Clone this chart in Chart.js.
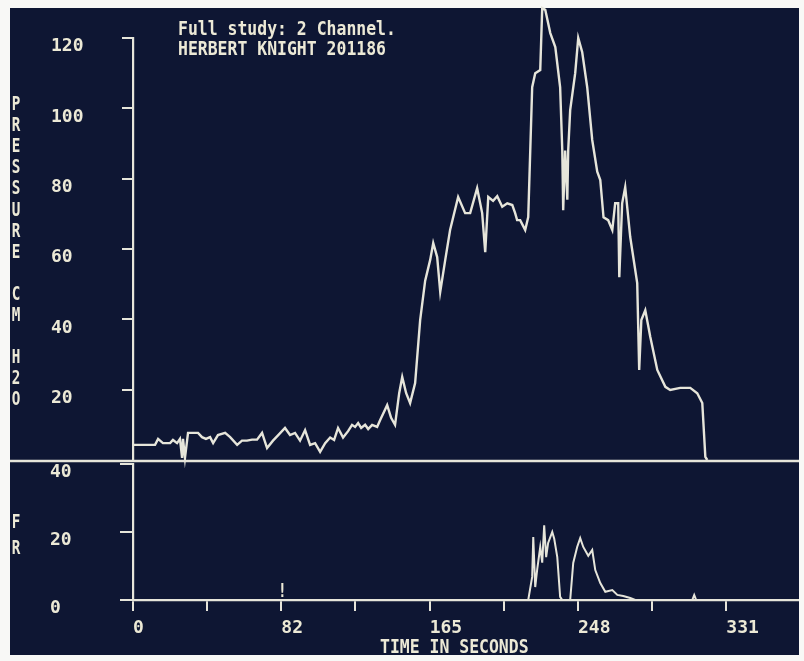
<!DOCTYPE html>
<html><head><meta charset="utf-8">
<script src="https://cdn.jsdelivr.net/npm/chart.js@4/dist/chart.umd.min.js"></script>
<style>
html,body{margin:0;padding:0;background:#f8f8f6;width:804px;height:661px;overflow:hidden;}
#screen{position:absolute;left:10px;top:8px;width:789px;height:647px;background:#0e1633;}
canvas{position:absolute;left:0;top:0;}
</style></head><body>
<div id="screen"></div>
<canvas id="topChart" width="804" height="661"></canvas>
<canvas id="botChart" width="804" height="661"></canvas>
<script>
// ---- text ----
const titleLines = ['Full study: 2 Channel.', 'HERBERT KNIGHT 201186'];
const pressureAxisLabel = 'PRESSURE CM H2O';
const flowAxisLabel = 'FR';
const xAxisTitle = 'TIME IN SECONDS';
const markerText = '!';
const markerTime = 82.75;

// ---- ticks ----
const xTickValues = [0, 41.375, 82.75, 124.125, 165.5, 206.875, 248.25, 289.625, 331];
const xTickLabels = ['0', '', '82', '', '165', '', '248', '', '331'];
const pressureTicks = [20, 40, 60, 80, 100, 120];
const flowTicks = [0, 20, 40];

// ---- pressure channel (cm H2O) ----
const pressureTime = [0,12.3,14.0,16.7,20.7,22.3,24.6,26.2,27.4,27.9,29.0,30.7,36.3,38.5,40.7,43.0,44.7,47.4,51.4,54.2,58.1,60.8,63.6,66.4,69.2,72.0,74.8,78.1,80.9,84.8,87.6,90.4,93.2,96.0,98.8,101.6,104.4,107.2,110.0,112.2,114.4,117.2,120.0,122.2,123.9,125.6,127.3,129.5,131.2,133.4,136.2,137.9,141.8,144.0,146.2,148.5,150.2,152.4,154.6,157.4,160.2,163.0,165.8,167.5,169.7,171.4,174.2,176.9,181.4,185.3,188.1,192.0,194.8,196.5,198.2,200.9,203.2,206.0,208.8,211.6,213.2,214.3,216.0,217.7,218.8,220.5,222.7,224.4,227.2,228.3,230.0,232.8,235.6,238.3,239.5,240.0,241.1,242.3,242.8,243.9,246.7,248.4,250.6,253.4,256.2,259.0,260.7,262.5,265.1,267.4,269.0,270.7,271.3,272.9,274.6,277.4,281.3,282.4,283.6,285.8,288.6,292.5,297.0,299.7,305.3,310.9,314.8,317.6,319.3,320.4];
const pressureValue = [4.3,4.3,6.0,4.8,4.8,5.7,4.8,6.0,0.6,6.0,0.6,7.7,7.7,6.5,6.0,6.5,4.8,7.1,7.7,6.5,4.3,5.5,5.5,5.8,5.8,7.7,3.4,5.5,7.0,9.1,7.1,7.7,5.5,8.5,4.3,4.8,2.3,4.8,6.4,5.7,9.1,6.4,8.2,10.0,9.4,10.5,9.1,10.0,8.8,10.0,9.4,11.4,15.6,12.0,10.0,19.0,23.6,19.0,16.2,21.9,39.8,51.0,56.9,61.7,57.7,47.8,56.9,65.4,74.8,70.2,70.2,77.3,70.2,59.1,74.8,73.7,75.0,72.0,73.0,72.5,70.2,68.2,68.2,66.5,65.4,69.1,106.0,110.0,110.9,128.5,128.0,121.4,117.4,106.0,88.0,71.0,88.0,74.0,88.0,99.5,110.0,120.0,116.0,106.0,91.0,82.0,79.6,69.0,68.2,65.4,73.0,73.0,52.0,73.0,77.6,63.4,50.3,25.6,39.8,42.6,35.0,25.6,20.8,19.9,20.5,20.5,19.0,16.2,0.9,0];

// ---- flow-rate channel ----
const flowTime = [0,220.5,222.7,223.3,224.4,225.5,227.2,228.3,229.4,230.5,231.6,233.9,235.0,236.7,238.3,239.5,243.9,245.6,247.8,249.5,251.2,254.0,256.2,257.9,260.7,263.5,267.4,270.2,273.5,277.4,280.2,312.0,313.1,314.2,331];
const flowValue = [0,0,6.8,18.5,3.8,9.0,15.6,11.0,22.0,12.6,16.8,20.0,18.0,12.6,0.9,0,0,10.9,15.6,18.2,15.6,13.0,14.7,8.8,5.0,2.4,2.9,1.5,1.2,0.6,0,0,1.5,0,0];

const INK = '#e6e5da';
const TXT = '#ece9d6';
const FONT = '"DejaVu Sans Mono", "Liberation Mono", monospace';

function pts(t, v) { return t.map((x, i) => ({ x: x, y: v[i] })); }

function crtText(ctx, str, x, y, size, sx, align) {
  ctx.save();
  ctx.translate(x, y);
  ctx.scale(sx, 1);
  ctx.font = 'bold ' + size + 'px ' + FONT;
  ctx.fillStyle = TXT;
  ctx.textAlign = align || 'left';
  ctx.textBaseline = 'alphabetic';
  ctx.fillText(str, 0, 0);
  ctx.restore();
}

const tickFont = { family: FONT, size: 18, weight: 'bold', lineHeight: 0.95 };

const topDecor = {
  id: 'topDecor',
  afterDraw(chart) {
    const ctx = chart.ctx;
    const y0 = chart.scales.y.getPixelForValue(0) + 1;
    ctx.save();
    ctx.strokeStyle = INK; ctx.lineWidth = 2.5;
    ctx.beginPath(); ctx.moveTo(10, y0); ctx.lineTo(799, y0); ctx.stroke();
    ctx.restore();
    crtText(ctx, titleLines[0], 178, 35, 19, 0.866, 'left');
    crtText(ctx, titleLines[1], 178, 55, 19, 0.866, 'left');
    const chars = pressureAxisLabel.split('');
    chars.forEach((c, i) => { if (c !== ' ') crtText(ctx, c, 16, 110 + i * 21.1, 19, 0.75, 'center'); });
  }
};

const botDecor = {
  id: 'botDecor',
  afterDraw(chart) {
    const ctx = chart.ctx;
    crtText(ctx, flowAxisLabel[0], 16, 528, 19, 0.75, 'center');
    crtText(ctx, flowAxisLabel[1], 16, 554, 19, 0.75, 'center');
    crtText(ctx, xAxisTitle, 380, 653, 19, 0.866, 'left');
    const mx = chart.scales.x.getPixelForValue(markerTime);
    const my = chart.scales.y.getPixelForValue(0);
    crtText(ctx, markerText, mx + 1, my - 3, 19, 0.8, 'center');
  }
};

new Chart(document.getElementById('topChart'), {
  type: 'line',
  data: { datasets: [{ data: pts(pressureTime, pressureValue), borderColor: INK, borderWidth: 2.4, pointRadius: 0, tension: 0, clip: false }] },
  options: {
    responsive: false, animation: false, devicePixelRatio: 1,
    layout: { padding: { left: 51, right: 6, top: 38, bottom: 201 } },
    plugins: { legend: { display: false }, tooltip: { enabled: false } },
    scales: {
      x: { type: 'linear', display: false, min: 0, max: 371 },
      y: {
        type: 'linear', min: 0, max: 120, position: 'left',
        afterFit(s) { s.width = 82; },
        afterBuildTicks(s) { s.ticks = pressureTicks.map(v => ({ value: v })); },
        ticks: { color: TXT, font: tickFont, crossAlign: 'far', padding: 0, callback: (v) => ['', String(v)] },
        grid: { drawOnChartArea: false, color: INK, lineWidth: 2, tickLength: 11 },
        border: { color: INK, width: 2.2 }
      }
    }
  },
  plugins: [topDecor]
});

new Chart(document.getElementById('botChart'), {
  type: 'line',
  data: { datasets: [{ data: pts(flowTime, flowValue), borderColor: INK, borderWidth: 2, pointRadius: 0, tension: 0, clip: false }] },
  options: {
    responsive: false, animation: false, devicePixelRatio: 1,
    layout: { padding: { left: 50, right: 6, top: 464, bottom: 0 } },
    plugins: { legend: { display: false }, tooltip: { enabled: false } },
    scales: {
      x: {
        type: 'linear', min: 0, max: 371, position: 'bottom',
        afterFit(s) { s.height = 61; },
        afterBuildTicks(s) { s.ticks = xTickValues.map(v => ({ value: v })); },
        ticks: { autoSkip: false, maxRotation: 0, minRotation: 0, align: 'start', padding: 7, color: TXT, font: { family: FONT, size: 18, weight: 'bold' }, callback: (v, i) => xTickLabels[i] },
        grid: { drawOnChartArea: false, color: INK, lineWidth: 2, tickLength: 11 },
        border: { color: INK, width: 2.2 }
      },
      y: {
        type: 'linear', min: 0, max: 40, position: 'left',
        afterFit(s) { s.width = 83; },
        afterBuildTicks(s) { s.ticks = flowTicks.map(v => ({ value: v })); },
        ticks: { color: TXT, font: tickFont, crossAlign: 'far', padding: 0, callback: (v) => ['', String(v)] },
        grid: { drawOnChartArea: false, color: INK, lineWidth: 2, tickLength: 13 },
        border: { color: INK, width: 2.2 }
      }
    }
  },
  plugins: [botDecor]
});
</script>
</body></html>
